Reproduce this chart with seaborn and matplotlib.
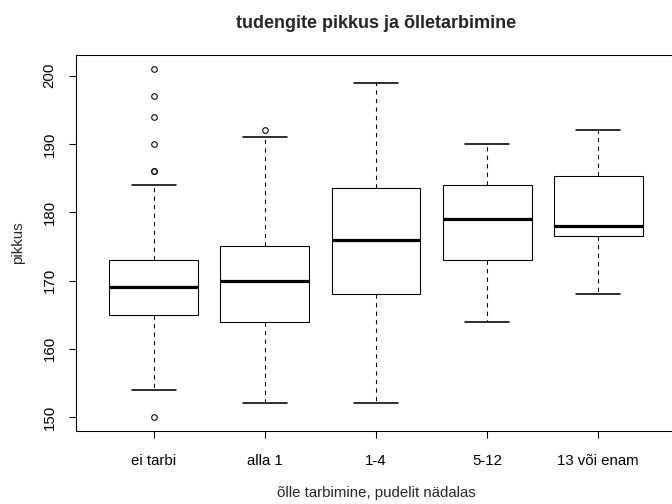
import numpy as np
import pandas as pd
import seaborn as sns
import matplotlib
matplotlib.use("Agg")
import matplotlib.pyplot as plt

# five-number summaries
groups = ["ei tarbi", "alla 1", "1-4", "5-12", "13 või enam"]
whisk_lo = [154, 152, 152, 164, 168]
q1 = [165, 164, 168, 173, 176.5]
median = [169, 170, 176, 179, 178]
q3 = [173, 175, 183.5, 184, 185.3]
whisk_hi = [184, 191, 199, 190, 192]
outliers = [[150, 186, 186, 190, 194, 197, 201], [192], [], [], []]


def build_sample(lo, a, m, b, hi, extra, k=10):
    '''
    sample whose quartiles / whisker ends equal the read-off values
    '''
    return [lo] + [a] * k + [m] * k + [b] * k + [hi] + list(extra)


rows = []
for i, g in enumerate(groups):
    vals = build_sample(whisk_lo[i], q1[i], median[i], q3[i], whisk_hi[i], outliers[i])
    rows += [(g, v) for v in vals]
df = pd.DataFrame(rows, columns=["tarbimine", "pikkus"])

sns.set_style("white")
plt.rcParams["font.family"] = ["Liberation Sans", "DejaVu Sans"]

fig = plt.figure(figsize=(7, 5.25), dpi=96)
ax = fig.add_axes([76 / 672, 73 / 504, 600 / 672, 376 / 504])

sns.boxplot(
    data=df, x="tarbimine", y="pikkus", order=groups, ax=ax,
    color="white", linecolor="black", width=0.8, whis=1.5,
    linewidth=0.8, fliersize=4.2,
    medianprops=dict(linewidth=2.4, color="black"),
    whiskerprops=dict(linestyle=(0, (4, 4)), linewidth=0.8, color="black"),
    capprops=dict(linewidth=1.2, color="black"),
    flierprops=dict(marker="o", markerfacecolor="none", markeredgecolor="black",
                    markeredgewidth=0.8),
)

ax.set_xlim(-0.7, 4.7)
ax.set_ylim(147.96, 203.04)
ax.set_yticks(np.arange(150, 201, 10))
for s in ax.spines.values():
    s.set_visible(True)
    s.set_color("black")
    s.set_linewidth(0.8)

ax.tick_params(axis="both", direction="out", length=5.6, width=0.8, color="black",
               labelsize=11.25, labelcolor="black", left=True, bottom=True)
ax.tick_params(axis="x", pad=12)
ax.tick_params(axis="y", pad=9)
for lab in ax.get_yticklabels():
    lab.set_rotation(90)
    lab.set_va("center")

ax.set_xlabel("õlle tarbimine, pudelit nädalas", fontsize=11.25)
ax.set_ylabel("pikkus", fontsize=11.25)
ax.xaxis.set_label_coords((376 - 76) / 600, -(493 - 431) / 376)
ax.yaxis.set_label_coords(-(76 - 18) / 600, 0.5)
ax.xaxis.label.set_va("center")
ax.yaxis.label.set_va("center")

fig.text(376 / 672, 1 - 24 / 504, "tudengite pikkus ja õlletarbimine",
         ha="center", va="center", fontsize=13.5, fontweight="bold")

fig.savefig("out.png", dpi=96)
